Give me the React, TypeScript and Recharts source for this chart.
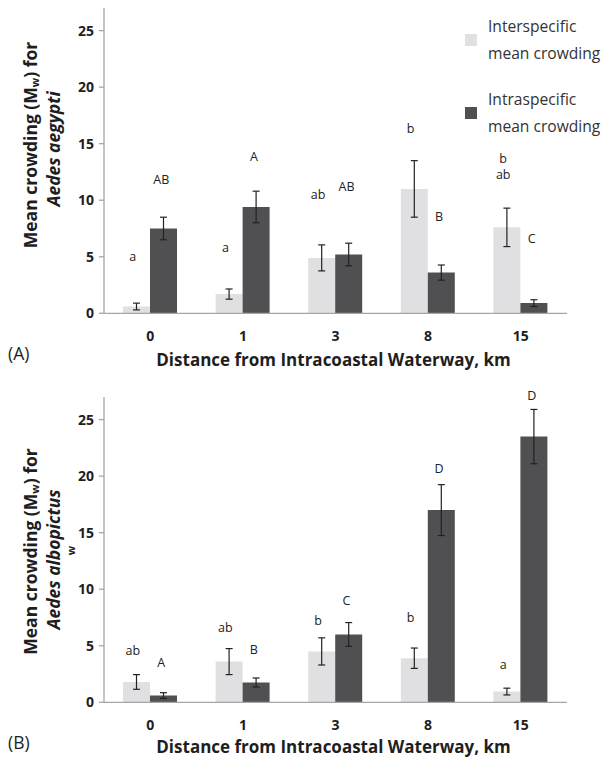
import React from 'react';
import { BarChart, Bar, XAxis, YAxis, ErrorBar, ReferenceDot, Legend, Label } from 'recharts';

// ---- data ----
const distances = ['0', '1', '3', '8', '15'];

const aegyptiInter = [0.6, 1.7, 4.9, 11.0, 7.6];
const aegyptiInterErr = [0.3, 0.45, 1.15, 2.5, 1.7];
const aegyptiIntra = [7.5, 9.4, 5.2, 3.6, 0.9];
const aegyptiIntraErr = [1.0, 1.4, 1.0, 0.67, 0.3];

const albopictusInter = [1.8, 3.6, 4.5, 3.9, 0.95];
const albopictusInterErr = [0.65, 1.15, 1.2, 0.9, 0.3];
const albopictusIntra = [0.6, 1.75, 6.0, 17.0, 23.5];
const albopictusIntraErr = [0.25, 0.4, 1.05, 2.25, 2.4];

// letters: [distance, text, y-value of label]
const aegyptiInterLetters: [string, string, number][] = [
  ['0', 'a', 5.0], ['1', 'a', 5.85], ['3', 'ab', 10.5], ['8', 'b', 16.3], ['15', 'b', 13.7], ['15', 'ab', 12.3],
];
const aegyptiIntraLetters: [string, string, number][] = [
  ['0', 'AB', 11.8], ['1', 'A', 13.9], ['3', 'AB', 11.2], ['8', 'B', 8.6], ['15', 'C', 6.6],
];
const albopictusInterLetters: [string, string, number][] = [
  ['0', 'ab', 4.6], ['1', 'ab', 6.6], ['3', 'b', 7.2], ['8', 'b', 7.5], ['15', 'a', 3.3],
];
const albopictusIntraLetters: [string, string, number][] = [
  ['0', 'A', 3.5], ['1', 'B', 4.7], ['3', 'C', 9.0], ['8', 'D', 20.7], ['15', 'D', 27.1],
];

const yTicks = [0, 5, 10, 15, 20, 25];
const boundaryTicks = [0, 1, 2, 3, 4, 5];

const legendNames = ['Interspecific mean crowding', 'Intraspecific mean crowding'];
const xTitle = 'Distance from Intracoastal Waterway, km';

// ---- styles ----
const FONT = '"Open Sans", sans-serif';
const LIGHT = '#e0e0e2';
const DARK = '#505052';
const AXIS = '#a6a6a6';
const ERR = '#222222';
const TXT = '#1e1e1e';

function build(inter: number[], interErr: number[], intra: number[], intraErr: number[]) {
  return distances.map((d, i) => ({
    distance: d,
    inter: inter[i],
    interErr: interErr[i],
    intra: intra[i],
    intraErr: intraErr[i],
  }));
}

const LegendContent = () => (
  <div style={{ fontFamily: FONT, fontSize: 15.6, color: '#333', lineHeight: '26.6px' }}>
    {legendNames.map((name, i) => {
      const words = name.split(' ');
      const l1 = words[0];
      const l2 = words.slice(1).join(' ');
      return (
        <div key={name} style={{ display: 'flex', alignItems: 'center', marginBottom: i === 0 ? 19.4 : 0 }}>
          <div style={{ width: 12, height: 12, background: i === 0 ? LIGHT : DARK, marginRight: 11, flex: 'none' }} />
          <div style={{ whiteSpace: 'nowrap' }}>
            <div>{l1}</div>
            <div>{l2}</div>
          </div>
        </div>
      );
    })}
  </div>
);

type PanelProps = {
  data: any[];
  interLetters: [string, string, number][];
  intraLetters: [string, string, number][];
  species: string;
  tag: string;
  line1Y: number;
  line2Y: number;
  showLegend: boolean;
  topPad: number;
  titleOffset: number;
  stray?: boolean;
};

function Panel({ data, interLetters, intraLetters, species, tag, line1Y, line2Y, showLegend, topPad, titleOffset, stray }: PanelProps) {
  const letterDot = (key: string, d: string, text: string, y: number, dx: number) => (
    <ReferenceDot
      key={key}
      xAxisId="cat"
      x={d}
      y={y}
      r={0}
      ifOverflow="visible"
      shape={(p: any) => (
        <text
          x={p.cx + dx}
          y={p.cy}
          textAnchor="middle"
          dominantBaseline="central"
          fontSize={12.5}
          fill="#222"
          fontFamily={FONT}
        >
          {text}
        </text>
      )}
    />
  );

  return (
    <BarChart
      width={606}
      height={362 + topPad}
      data={data}
      margin={{ top: topPad, right: 39, left: 0, bottom: 0 }}
      barGap={0}
    >
      <XAxis
        xAxisId="bound"
        type="number"
        domain={[0, 5]}
        ticks={boundaryTicks}
        allowDataOverflow
        tick={false}
        tickSize={6}
        height={6}
        axisLine={{ stroke: AXIS, strokeWidth: 1.3 }}
        tickLine={{ stroke: AXIS, strokeWidth: 1.3 }}
      />
      <XAxis
        xAxisId="cat"
        dataKey="distance"
        type="category"
        axisLine={false}
        tickLine={false}
        tickSize={4}
        tickMargin={8}
        height={50.7}
        interval={0}
        tick={{ fontSize: 14, fontWeight: 700, fill: TXT, fontFamily: FONT }}
      >
        <Label
          content={(p: any) => {
            const vb = p.viewBox || {};
            return (
              <g>
                <text
                  x={vb.x + vb.width / 2 - 2}
                  y={vb.y + titleOffset}
                  textAnchor="middle"
                  dominantBaseline="central"
                  fontSize={17}
                  fontWeight={700}
                  fill={TXT}
                  fontFamily={FONT}
                >
                  {xTitle}
                </text>
                <text
                  x={8}
                  y={vb.y + 34}
                  dominantBaseline="central"
                  fontSize={17.5}
                  fill={TXT}
                  fontFamily={FONT}
                >
                  {tag}
                </text>
              </g>
            );
          }}
        />
      </XAxis>
      <YAxis
        domain={[0, 27]}
        ticks={yTicks}
        allowDataOverflow
        width={104}
        tickSize={5}
        tickMargin={5}
        axisLine={{ stroke: AXIS, strokeWidth: 1.3 }}
        tickLine={{ stroke: AXIS, strokeWidth: 1.3 }}
        tick={{ fontSize: 14, fontWeight: 700, fill: TXT, fontFamily: FONT }}
      >
        <Label
          content={() => (
            <g fontFamily={FONT} fontWeight={700} fill={TXT}>
              <text
                x={30}
                y={line1Y}
                transform={`rotate(-90, 30, ${line1Y})`}
                textAnchor="middle"
                dominantBaseline="central"
                fontSize={17.5}
              >
                <tspan>Mean crowding (M</tspan>
                <tspan dy={4} fontSize={11}>w</tspan>
                <tspan dy={-4}>) for</tspan>
              </text>
              <text
                x={53}
                y={line2Y}
                transform={`rotate(-90, 53, ${line2Y})`}
                textAnchor="middle"
                dominantBaseline="central"
                fontSize={17.5}
                fontStyle="italic"
              >
                {species}
              </text>
              {stray ? (
                <text
                  x={70}
                  y={line2Y - 9}
                  textAnchor="middle"
                  dominantBaseline="central"
                  fontSize={11}
                  transform={`rotate(-90, 70, ${line2Y - 9})`}
                >
                  w
                </text>
              ) : null}
            </g>
          )}
        />
      </YAxis>
      {showLegend ? (
        <Legend
          layout="vertical"
          align="center"
          verticalAlign="middle"
          content={() => <LegendContent />}
          wrapperStyle={{ position: 'absolute', left: 465, top: 13.4, width: 141 }}
        />
      ) : null}
      <Bar xAxisId="cat" dataKey="inter" name={legendNames[0]} fill={LIGHT} barSize={27} isAnimationActive={false}>
        <ErrorBar dataKey="interErr" width={3.5} stroke={ERR} strokeWidth={1.2} />
      </Bar>
      <Bar xAxisId="cat" dataKey="intra" name={legendNames[1]} fill={DARK} barSize={27} isAnimationActive={false}>
        <ErrorBar dataKey="intraErr" width={3.5} stroke={ERR} strokeWidth={1.2} />
      </Bar>
      {interLetters.map(([d, t, y], i) => letterDot(`i${i}`, d, t, y, -17.5))}
      {intraLetters.map(([d, t, y], i) => letterDot(`j${i}`, d, t, y, 11))}
    </BarChart>
  );
}

export default function App() {
  const dataA = build(aegyptiInter, aegyptiInterErr, aegyptiIntra, aegyptiIntraErr);
  const dataB = build(albopictusInter, albopictusInterErr, albopictusIntra, albopictusIntraErr);
  return (
    <div
      style={{
        position: 'absolute',
        left: 0,
        top: 0,
        width: 606,
        height: 758,
        overflow: 'hidden',
        background: '#fff',
        fontFamily: FONT,
      }}
    >
      <div style={{ position: 'absolute', left: 0, top: 0 }}>
        <Panel
          data={dataA}
          interLetters={aegyptiInterLetters}
          intraLetters={aegyptiIntraLetters}
          species="Aedes aegypti"
          tag="(A)"
          line1Y={145}
          line2Y={149}
          showLegend
          topPad={8}
          titleOffset={40.5}
        />
      </div>
      <div style={{ position: 'absolute', left: 0, top: 372.5 }}>
        <Panel
          data={dataB}
          interLetters={albopictusInterLetters}
          intraLetters={albopictusIntraLetters}
          species="Aedes albopictus"
          tag="(B)"
          line1Y={178.5}
          line2Y={186.5}
          showLegend={false}
          topPad={24}
          titleOffset={38}
          stray
        />
      </div>
    </div>
  );
}
